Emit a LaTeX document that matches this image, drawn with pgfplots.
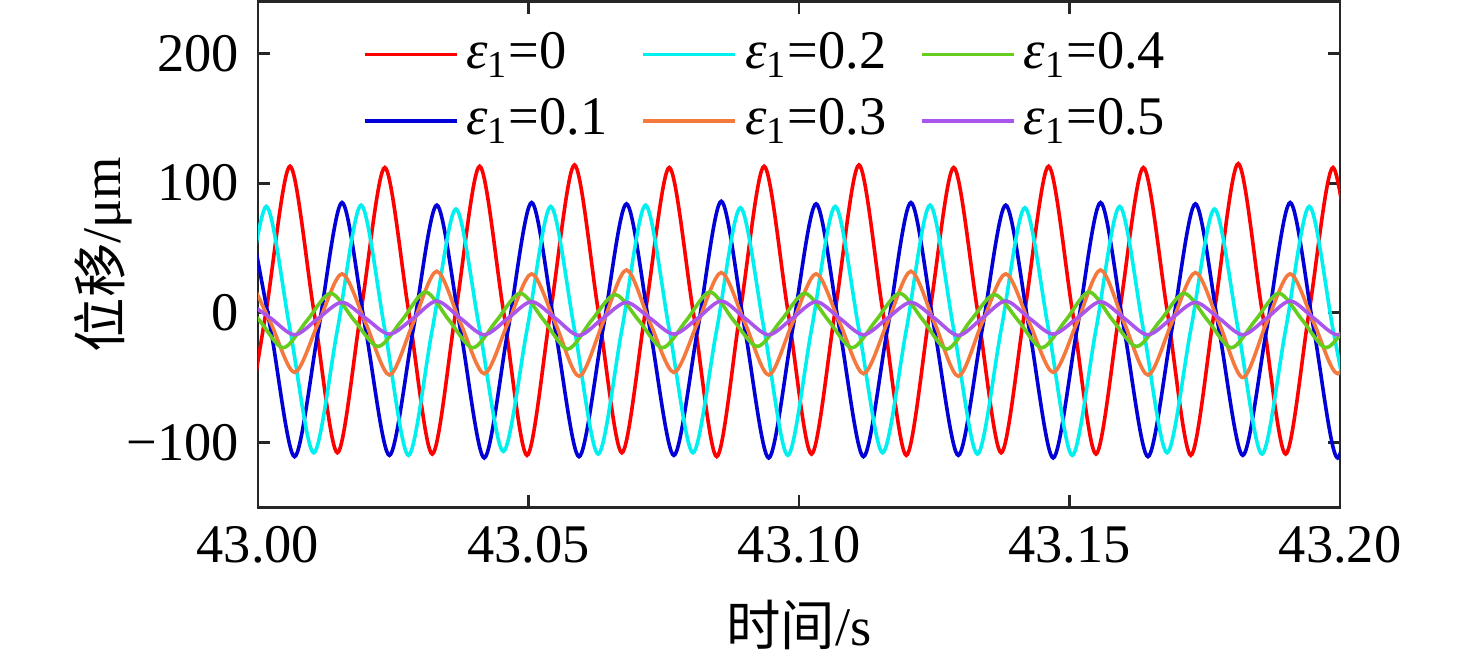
\documentclass[border=0pt]{standalone}
\usepackage{fontspec}
\setmainfont{Liberation Serif}
\newfontfamily\cjk{Noto Sans CJK SC}
\usepackage{pgfplots}
\usepackage{pgfplotstable}
\pgfplotsset{compat=1.18}
\definecolor{axgray}{RGB}{38,38,38}
\definecolor{cRed}{RGB}{255,0,0}
\definecolor{cBlue}{RGB}{0,0,215}
\definecolor{cCyan}{RGB}{0,240,240}
\definecolor{cOrange}{RGB}{245,120,60}
\definecolor{cGreen}{RGB}{102,204,30}
\definecolor{cPurple}{RGB}{170,85,235}
% red (eps=0) and cyan (eps=0.2)
\pgfplotstableread{
t red cyan
42.99715 -110 -13
43.00153 2 82
43.00592 113 -13
43.01030 2 -108
43.01468 -108 -13
43.01906 2 83
43.02344 112 -13
43.02782 2 -110
43.03221 -109 -13
43.03659 2 80
43.04097 113 -13
43.04535 2 -107
43.04973 -110 -13
43.05411 2 82
43.05850 114 -13
43.06288 2 -109
43.06726 -108 -13
43.07164 2 83
43.07602 112 -13
43.08040 2 -108
43.08479 -111 -13
43.08917 2 81
43.09355 113 -13
43.09793 2 -110
43.10231 -109 -13
43.10670 2 82
43.11108 114 -13
43.11546 2 -108
43.11984 -110 -13
43.12422 2 83
43.12860 112 -13
43.13299 2 -109
43.13737 -108 -13
43.14175 2 81
43.14613 113 -13
43.15051 2 -110
43.15489 -109 -13
43.15928 2 82
43.16366 112 -13
43.16804 2 -108
43.17242 -110 -13
43.17680 2 80
43.18118 115 -13
43.18557 2 -109
43.18995 -109 -13
43.19433 2 82
43.19871 112 -13
43.20309 2 -108
}\tabA
% blue (eps=0.1), orange (eps=0.3), purple (eps=0.5)
\pgfplotstableread{
t blue orange purple
42.99800 84 31 8.5
43.00238 -13.5 -8 -4.3
43.00676 -111 -46 -17
43.01115 -13.5 -8 -4.3
43.01553 85 30 8
43.01991 -13.5 -8 -4.3
43.02429 -110 -48 -16.5
43.02867 -13.5 -8 -4.3
43.03305 83 32 9
43.03744 -13.5 -8 -4.3
43.04182 -112 -47 -17
43.04620 -13.5 -8 -4.3
43.05058 85 30 8.5
43.05496 -13.5 -8 -4.3
43.05934 -111 -49 -17.5
43.06373 -13.5 -8 -4.3
43.06811 84 33 8
43.07249 -13.5 -8 -4.3
43.07687 -110 -46 -16.5
43.08125 -13.5 -8 -4.3
43.08563 86 31 9
43.09002 -13.5 -8 -4.3
43.09440 -112 -48 -17
43.09878 -13.5 -8 -4.3
43.10316 84 30 8.5
43.10754 -13.5 -8 -4.3
43.11192 -111 -47 -17
43.11631 -13.5 -8 -4.3
43.12069 85 32 8
43.12507 -13.5 -8 -4.3
43.12945 -110 -49 -17.5
43.13383 -13.5 -8 -4.3
43.13821 83 30 9
43.14260 -13.5 -8 -4.3
43.14698 -112 -46 -16.5
43.15136 -13.5 -8 -4.3
43.15574 85 33 8.5
43.16012 -13.5 -8 -4.3
43.16450 -111 -48 -17
43.16889 -13.5 -8 -4.3
43.17327 84 31 8
43.17765 -13.5 -8 -4.3
43.18203 -110 -50 -17
43.18641 -13.5 -8 -4.3
43.19079 85 30 9
43.19518 -13.5 -8 -4.3
43.19956 -112 -47 -17
43.20394 -13.5 -8 -4.3
}\tabB
% green (eps=0.4)
\pgfplotstableread{
t green
42.99591 15
43.00029 -6
43.00467 -27
43.00906 -6
43.01344 15
43.01782 -6
43.02220 -26
43.02658 -6
43.03096 16
43.03535 -6
43.03973 -27
43.04411 -6
43.04849 15
43.05287 -6
43.05726 -28
43.06164 -6
43.06602 14
43.07040 -6
43.07478 -27
43.07916 -6
43.08355 16
43.08793 -6
43.09231 -26
43.09669 -6
43.10107 15
43.10545 -6
43.10984 -27
43.11422 -6
43.11860 15
43.12298 -6
43.12736 -28
43.13174 -6
43.13613 14
43.14051 -6
43.14489 -27
43.14927 -6
43.15365 16
43.15803 -6
43.16242 -26
43.16680 -6
43.17118 15
43.17556 -6
43.17994 -27
43.18432 -6
43.18871 15
43.19309 -6
43.19747 -27
43.20185 -6
}\tabC
\begin{document}
\fontsize{13.6}{16}\selectfont
\begin{tikzpicture}
\begin{axis}[name=ax, scale only axis, width=270.5pt, height=126.4pt,
  xmin=43, xmax=43.2, ymin=-150, ymax=240,
  xtick={43,43.05,43.1,43.15,43.2},
  xticklabels={43.00,43.05,43.10,43.15,43.20},
  ytick={-100,0,100,200}, yticklabels={−100,0,100,200},
  tick align=inside, major tick length=3pt,
  axis line style={axgray, line width=0.7pt},
  tick style={axgray, line width=0.7pt},
  xlabel={{\cjk 时间}/s}, ylabel={{\cjk 位移}/μm},
  xlabel style={at={(axis description cs:0.5,0)}, anchor=center, yshift=-29.5pt},
  ylabel style={at={(axis description cs:-0.1433,0.5)}, anchor=center},
  legend columns=2, legend transposed=true,
  legend style={draw=none, fill=none, at={(axis description cs:0,1)},
    anchor=north west, xshift=26pt, yshift=-5.5pt, inner sep=0pt, row sep=1.5pt,
    /tikz/every even column/.append style={column sep=6.5pt}},
  legend cell align=left,
  legend image code/.code={\draw[#1] (0pt,0pt) -- (23pt,0pt);},
  every axis plot/.append style={line width=0.9pt, smooth},
]
\addplot[cRed] table[x=t,y=red] {\tabA};
\addlegendentry{\textit{ε}\textsubscript{1}=0}
\addplot[cBlue] table[x=t,y=blue] {\tabB};
\addlegendentry{\textit{ε}\textsubscript{1}=0.1}
\addplot[cCyan] table[x=t,y=cyan] {\tabA};
\addlegendentry{\textit{ε}\textsubscript{1}=0.2}
\addplot[cOrange] table[x=t,y=orange] {\tabB};
\addlegendentry{\textit{ε}\textsubscript{1}=0.3}
\addplot[cGreen] table[x=t,y=green] {\tabC};
\addlegendentry{\textit{ε}\textsubscript{1}=0.4}
\addplot[cPurple] table[x=t,y=purple] {\tabB};
\addlegendentry{\textit{ε}\textsubscript{1}=0.5}
\end{axis}
\path ([shift={(-64.5pt,-37.25pt)}]ax.south west) rectangle ([shift={(34pt,0.4pt)}]ax.north east);
\end{tikzpicture}
\end{document}
